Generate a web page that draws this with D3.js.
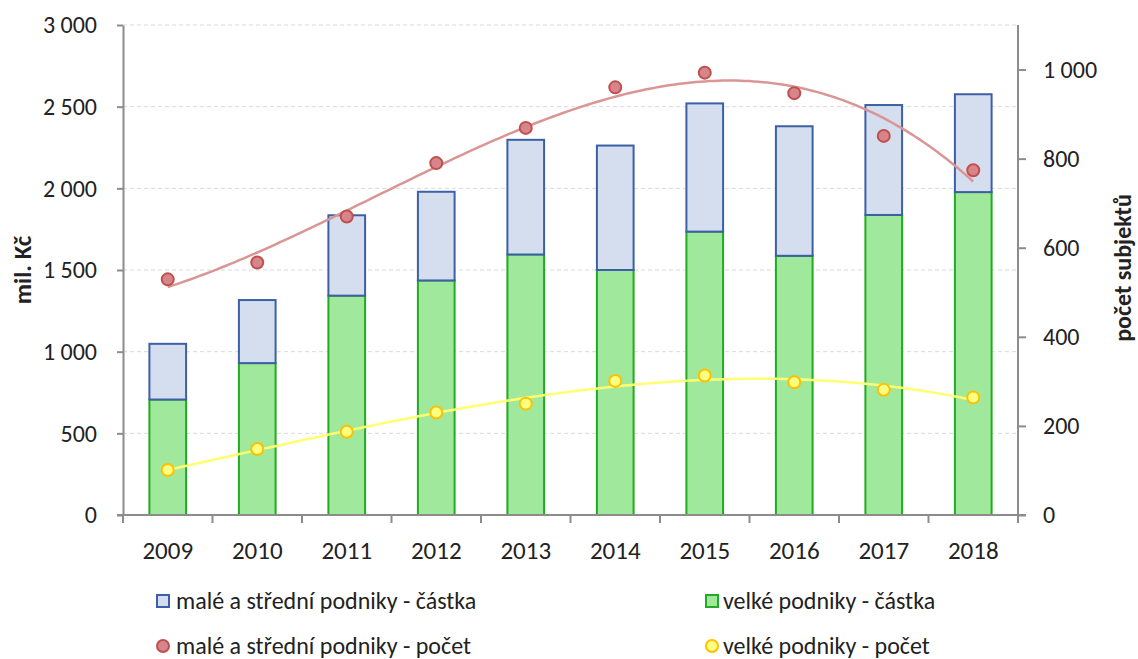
<!DOCTYPE html>
<html><head><meta charset="utf-8">
<script src="https://cdn.jsdelivr.net/npm/d3@7"></script>
<style>
body{margin:0;background:#fff;}
text{font-family:"Carlito","Liberation Sans Narrow","Open Sans",sans-serif;fill:#222;}
</style></head>
<body><svg id="c" width="1138" height="659"></svg>
<script>
const years = ["2009","2010","2011","2012","2013","2014","2015","2016","2017","2018"];
const velkeCastka = [707, 930, 1343, 1436, 1595, 1500, 1735, 1587, 1837, 1977];
const msCastka = [341, 386, 492, 543, 702, 762, 785, 793, 673, 599];
const msPocet = [529, 567, 670, 790, 869, 960, 993, 947, 851, 774];
const velkePocet = [101, 148, 187, 230, 250, 301, 313, 298, 281, 264];
const leftTicks = [0, 500, 1000, 1500, 2000, 2500, 3000];
const rightTicks = [0, 200, 400, 600, 800, 1000];
const legendLabels = ["malé a střední podniky - částka","velké podniky - částka","malé a střední podniky - počet","velké podniky - počet"];

const svg = d3.select("#c");
const L=123, R=1018, T=25, B=515;
const x = d3.scaleBand().domain(years).range([L,R]).paddingInner(0.59).paddingOuter(0.295);
const xb = d3.scaleBand().domain(years).range([L,R]);
const yL = d3.scaleLinear().domain([0,3000]).range([B,T]);
const yR = d3.scaleLinear().domain([0,1100]).range([B,T]);
const fmt = v => d3.format(",")(v).replace(/,/g," ");

// gridlines
svg.append("g").selectAll("line").data(leftTicks.filter(d=>d>0)).join("line")
  .attr("x1",L).attr("x2",R).attr("y1",d=>yL(d)).attr("y2",d=>yL(d))
  .attr("stroke","#d9d9d9").attr("stroke-width",1).attr("stroke-dasharray","4,3");

// bars
const g = svg.append("g");
g.selectAll(".bv").data(years).join("rect")
  .attr("x",d=>x(d)).attr("width",x.bandwidth())
  .attr("y",(d,i)=>yL(velkeCastka[i])).attr("height",(d,i)=>B-yL(velkeCastka[i]))
  .attr("fill","#a0e89c").attr("stroke","#22aa22").attr("stroke-width",2);
g.selectAll(".bm").data(years).join("rect")
  .attr("x",d=>x(d)).attr("width",x.bandwidth())
  .attr("y",(d,i)=>yL(velkeCastka[i]+msCastka[i])).attr("height",(d,i)=>yL(velkeCastka[i])-yL(velkeCastka[i]+msCastka[i]))
  .attr("fill","#d5deee").attr("stroke","#3c5fa6").attr("stroke-width",2);

// axes
function axisStyle(sel,fs){
  sel.selectAll(".domain").attr("stroke","#8c8c8c").attr("stroke-width",2);
  sel.selectAll(".tick line").attr("stroke","#8c8c8c").attr("stroke-width",2);
  sel.selectAll("text").attr("font-size",fs).attr("fill","#222");
}
const ax = svg.append("g").attr("transform",`translate(0,${B})`)
  .call(d3.axisBottom(xb).tickSize(0).tickSizeOuter(0).tickPadding(26));
ax.call(axisStyle,25);
ax.selectAll(".tick line").remove();
ax.append("g").selectAll("line").data(years.concat(["end"])).join("line")
  .attr("x1",(d,i)=>L+i*xb.bandwidth()).attr("x2",(d,i)=>L+i*xb.bandwidth())
  .attr("y1",0).attr("y2",8).attr("stroke","#8c8c8c").attr("stroke-width",2);
ax.selectAll(".domain").attr("d",`M${L-6},0H${R+8}`);

const al = svg.append("g").attr("transform",`translate(${L},0)`)
  .call(d3.axisLeft(yL).tickValues(leftTicks).tickFormat(fmt).tickSize(6).tickSizeOuter(0).tickPadding(20));
al.call(axisStyle,24);
const ar = svg.append("g").attr("transform",`translate(${R},0)`)
  .call(d3.axisRight(yR).tickValues(rightTicks).tickFormat(fmt).tickSize(8).tickSizeOuter(0).tickPadding(17));
ar.call(axisStyle,24);
ar.selectAll(".domain").attr("d",`M0,${T}V${B}`);

// axis titles
svg.append("text").attr("transform",`translate(31,270) rotate(-90)`).attr("text-anchor","middle")
  .attr("font-size",25).attr("font-weight","bold").text("mil. Kč");
svg.append("text").attr("transform",`translate(1131,268) rotate(-90)`).attr("text-anchor","middle")
  .attr("font-size",24).attr("font-weight","bold").text("počet subjektů");

// cubic trendline (least squares, x = 1..n)
function polyfit(ys, deg){
  const n=deg+1, A=[], bv=[];
  for(let r=0;r<n;r++){A.push(new Array(n).fill(0));bv.push(0);}
  ys.forEach((yv,i)=>{const xv=i+1;
    for(let r=0;r<n;r++){for(let c=0;c<n;c++)A[r][c]+=Math.pow(xv,r+c); bv[r]+=yv*Math.pow(xv,r);} });
  for(let c=0;c<n;c++){let p=c;for(let r=c+1;r<n;r++)if(Math.abs(A[r][c])>Math.abs(A[p][c]))p=r;
    [A[c],A[p]]=[A[p],A[c]];[bv[c],bv[p]]=[bv[p],bv[c]];
    for(let r=0;r<n;r++){if(r===c)continue;const f=A[r][c]/A[c][c];for(let k=c;k<n;k++)A[r][k]-=f*A[c][k];bv[r]-=f*bv[c];}}
  const coef=bv.map((v,i)=>v/A[i][i]);
  return t=>coef.reduce((s,cf,i)=>s+cf*Math.pow(t,i),0);
}
function trend(ys,color){
  const f=polyfit(ys,3);
  const pts=d3.range(1,10.001,0.05).map(t=>[x(years[0])+x.bandwidth()/2+(t-1)*xb.step(), yR(f(t))]);
  svg.append("path").attr("d",d3.line()(pts)).attr("fill","none").attr("stroke",color).attr("stroke-width",2.5);
}
trend(msPocet,"#d99694");
trend(velkePocet,"#ffff70");

// points
svg.append("g").selectAll("circle").data(years).join("circle")
  .attr("cx",d=>x(d)+x.bandwidth()/2).attr("cy",(d,i)=>yR(msPocet[i])).attr("r",6)
  .attr("fill","#d6868a").attr("stroke","#c0504d").attr("stroke-width",2);
svg.append("g").selectAll("circle").data(years).join("circle")
  .attr("cx",d=>x(d)+x.bandwidth()/2).attr("cy",(d,i)=>yR(velkePocet[i])).attr("r",6)
  .attr("fill","#ffff80").attr("stroke","#ffc000").attr("stroke-width",2);

// legend
const leg = svg.append("g");
const lx=[157,706], ly=[601,646];
leg.append("rect").attr("x",lx[0]).attr("y",ly[0]-6).attr("width",12).attr("height",12).attr("fill","#d5deee").attr("stroke","#3c5fa6").attr("stroke-width",2);
leg.append("rect").attr("x",lx[1]).attr("y",ly[0]-6).attr("width",12).attr("height",12).attr("fill","#a0e89c").attr("stroke","#22aa22").attr("stroke-width",2);
leg.append("circle").attr("cx",lx[0]+6).attr("cy",ly[1]).attr("r",6).attr("fill","#d6868a").attr("stroke","#c0504d").attr("stroke-width",2);
leg.append("circle").attr("cx",lx[1]+6).attr("cy",ly[1]).attr("r",6).attr("fill","#ffff80").attr("stroke","#ffc000").attr("stroke-width",2);
const tpos=[[lx[0]+19,ly[0]],[lx[1]+17,ly[0]],[lx[0]+19,ly[1]],[lx[1]+17,ly[1]]];
leg.selectAll("text").data(legendLabels).join("text")
  .attr("x",(d,i)=>tpos[i][0]).attr("y",(d,i)=>tpos[i][1]).attr("dy","0.33em")
  .attr("font-size",24).text(d=>d);
</script></body></html>
